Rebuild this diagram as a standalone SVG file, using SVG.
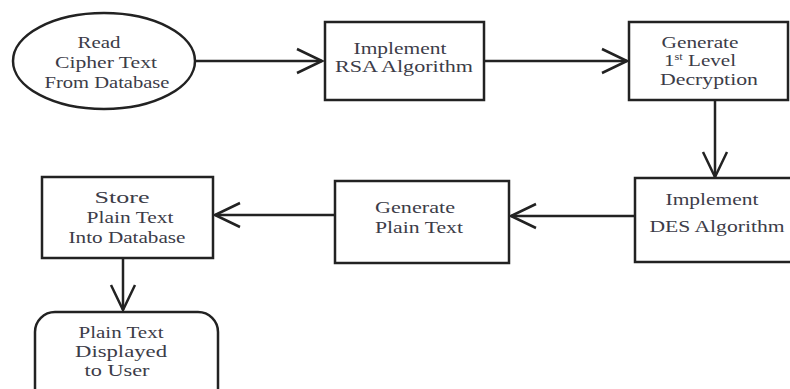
<svg xmlns="http://www.w3.org/2000/svg" width="790" height="389" viewBox="0 0 790 389">
<defs>
<marker id="arr" markerUnits="userSpaceOnUse" markerWidth="30" markerHeight="30" viewBox="-28 -14 30 28" refX="0" refY="0" orient="auto">
<path d="M-25,-12 L0,0 L-25,12" fill="none" stroke="#222" stroke-width="2.5"/>
</marker>
<style>
.s{fill:#fff;stroke:#222;stroke-width:2.5}
.c{fill:none;stroke:#222;stroke-width:2.5;marker-end:url(#arr)}
text{font-family:"Liberation Serif","Times New Roman",serif;font-size:17px;fill:#3c3c48;text-anchor:middle}
</style>
</defs>
<g id="connectors">
<line class="c" x1="195" y1="61" x2="322" y2="61"/>
<line class="c" x1="484" y1="61" x2="627" y2="61"/>
<line class="c" x1="715" y1="100" x2="715" y2="177"/>
<line class="c" x1="635" y1="216" x2="511" y2="216"/>
<line class="c" x1="335" y1="215" x2="215" y2="215"/>
<line class="c" x1="123" y1="258" x2="123" y2="310"/>
</g>
<g id="read">
<ellipse class="s" cx="104" cy="61" rx="91" ry="48"/>
<text x="99" y="48" textLength="43" lengthAdjust="spacingAndGlyphs">Read</text>
<text x="106" y="68" textLength="102" lengthAdjust="spacingAndGlyphs">Cipher Text</text>
<text x="107" y="88" textLength="125" lengthAdjust="spacingAndGlyphs">From Database</text>
</g>
<g id="rsa">
<rect class="s" x="325" y="22" width="159" height="78"/>
<text x="400" y="54" textLength="93" lengthAdjust="spacingAndGlyphs">Implement</text>
<text x="404" y="72" textLength="138" lengthAdjust="spacingAndGlyphs">RSA Algorithm</text>
</g>
<g id="gen1">
<rect class="s" x="629" y="22" width="159" height="78"/>
<text x="700" y="48" textLength="77" lengthAdjust="spacingAndGlyphs">Generate</text>
<text x="700" y="66" textLength="72" lengthAdjust="spacingAndGlyphs">1<tspan font-size="10" dy="-6">st</tspan><tspan dy="6"> Level</tspan></text>
<text x="709" y="85" textLength="98" lengthAdjust="spacingAndGlyphs">Decryption</text>
</g>
<g id="des">
<rect class="s" x="635" y="178" width="165" height="84"/>
<text x="712" y="205" textLength="93" lengthAdjust="spacingAndGlyphs">Implement</text>
<text x="717" y="232" textLength="135" lengthAdjust="spacingAndGlyphs">DES Algorithm</text>
</g>
<g id="genplain">
<rect class="s" x="335" y="181" width="174" height="82"/>
<text x="415" y="213" textLength="80" lengthAdjust="spacingAndGlyphs">Generate</text>
<text x="419" y="233" textLength="88" lengthAdjust="spacingAndGlyphs">Plain Text</text>
</g>
<g id="store">
<rect class="s" x="42" y="177" width="171" height="81"/>
<text x="122" y="203" textLength="55" lengthAdjust="spacingAndGlyphs">Store</text>
<text x="130" y="223" textLength="87" lengthAdjust="spacingAndGlyphs">Plain Text</text>
<text x="127" y="243" textLength="117" lengthAdjust="spacingAndGlyphs">Into Database</text>
</g>
<g id="display">
<rect class="s" x="35" y="312" width="183" height="100" rx="20" ry="20"/>
<text x="121" y="338" textLength="85" lengthAdjust="spacingAndGlyphs">Plain Text</text>
<text x="121" y="357" textLength="92" lengthAdjust="spacingAndGlyphs">Displayed</text>
<text x="117" y="376" textLength="65" lengthAdjust="spacingAndGlyphs">to User</text>
</g>
</svg>
